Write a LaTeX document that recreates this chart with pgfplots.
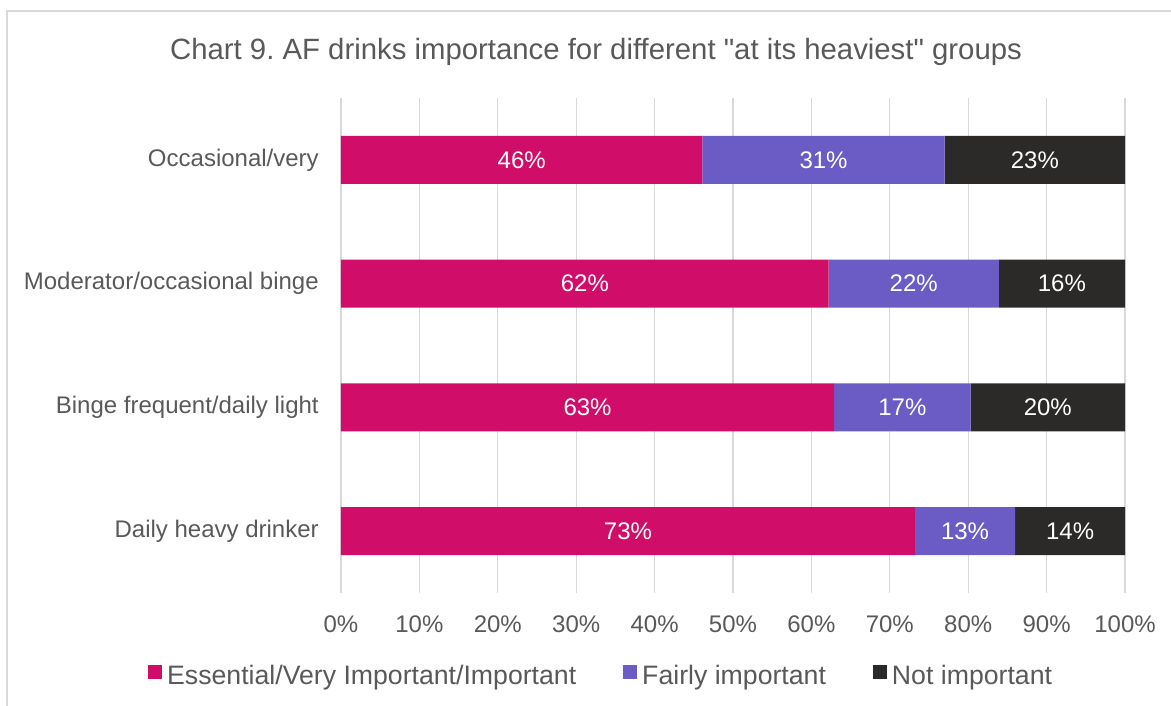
\documentclass[border=0pt]{standalone}
\usepackage{pgfplots}
\pgfplotsset{compat=1.18}
\usepackage{fontspec}
\setmainfont{Liberation Sans}[Ligatures=TeXOff]
\frenchspacing
\definecolor{cpink}{RGB}{208,14,106}
\definecolor{cpurple}{RGB}{106,92,196}
\definecolor{cdark}{RGB}{43,42,40}
\definecolor{ctext}{RGB}{89,89,89}
\definecolor{cgrid}{RGB}{217,217,217}
\begin{document}
\begin{tikzpicture}
\useasboundingbox (0pt,0pt) rectangle (878.25pt,-529.5pt);
\draw[cgrid, line width=1.2pt] (5.25pt,-529.5pt) -- (5.25pt,-8.25pt) -- (878.25pt,-8.25pt);
\node[ctext, font=\fontsize{22}{26}\selectfont] at (447pt,-39pt) {Chart 9. AF drinks importance for different "at its heaviest" groups};
\pgfplotsset{base/.style={
  at={(255.75pt,-444.75pt)}, anchor=south west, scale only axis,
  width=588pt, height=371.25pt,
  xmin=0, xmax=100, ymin=-0.5, ymax=3.5}}
\begin{axis}[base,
  xbar stacked, bar width=36pt,
  ytick={0,1,2,3},
  yticklabels={Daily heavy drinker, Binge frequent/daily light, Moderator/occasional binge, Occasional/very},
  xtick={0,10,20,30,40,50,60,70,80,90,100},
  xticklabels={0\%,10\%,20\%,30\%,40\%,50\%,60\%,70\%,80\%,90\%,100\%},
  xmajorgrids, grid style={cgrid, line width=0.9pt},
  axis line style={draw=none}, major tick length=0pt,
  tick label style={ctext, font=\fontsize{18}{22}\selectfont, inner sep=0pt},
  yticklabel style={anchor=east, xshift=-16.5pt},
  xticklabel style={anchor=north, yshift=-16.5pt},
  legend style={at={(0.332,-0.168)}, anchor=center, draw=none, fill=none,
    legend columns=-1, font=\fontsize{20}{24}\selectfont, text=ctext,
    /tikz/every even column/.append style={column sep=33pt}},
  legend image code/.code={\fill[#1, draw=none] (0pt,-2.5pt) rectangle (10.5pt,8pt); \path (12.5pt,0pt);},
]
\addplot[fill=cpink, draw=none] coordinates {(73.2,0) (62.9,1) (62.2,2) (46.1,3)};
\addplot[fill=cpurple, draw=none] coordinates {(12.8,0) (17.4,1) (21.7,2) (30.9,3)};
\addplot[fill=cdark, draw=none] coordinates {(14.0,0) (19.7,1) (16.1,2) (23.0,3)};
\legend{Essential/Very Important/Important, Fairly important, Not important}
\end{axis}
\begin{axis}[base, hide axis]
\addplot[draw=none, mark=none, nodes near coords, point meta=explicit symbolic,
  nodes near coords align=center,
  every node near coord/.append style={white, font=\fontsize{18}{22}\selectfont, anchor=center}]
  coordinates {
  (36.6,0) [73\%] (79.6,0) [13\%] (93.0,0) [14\%]
  (31.45,1) [63\%] (71.6,1) [17\%] (90.15,1) [20\%]
  (31.1,2) [62\%] (73.05,2) [22\%] (91.95,2) [16\%]
  (23.05,3) [46\%] (61.55,3) [31\%] (88.5,3) [23\%]
  };
\end{axis}
\end{tikzpicture}
\end{document}
